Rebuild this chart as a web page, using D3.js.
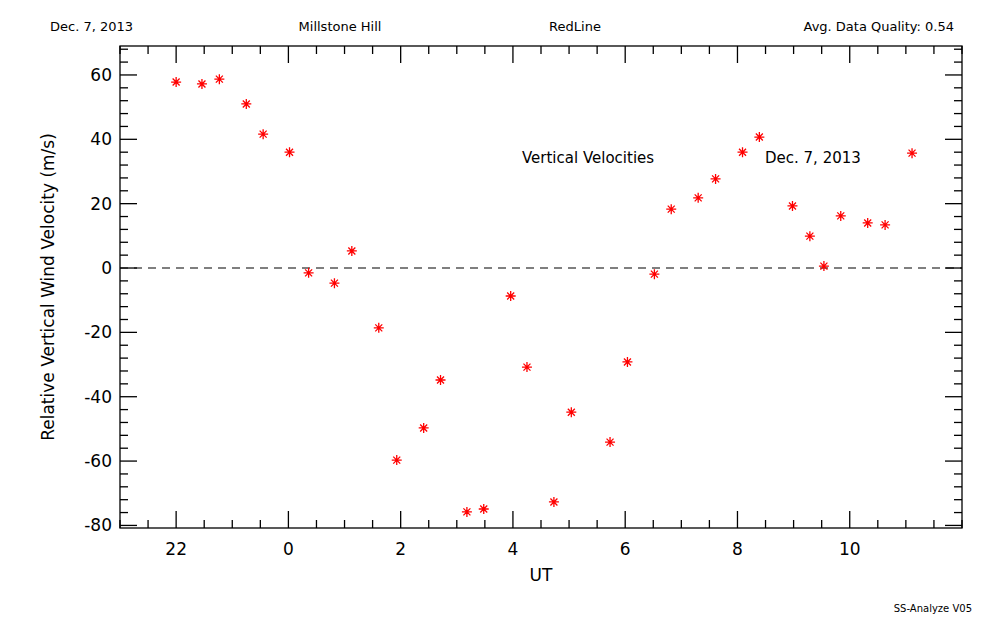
<!DOCTYPE html><html><head><script src="https://cdn.jsdelivr.net/npm/d3@7"></script>
<style>body{margin:0;background:#fff}text{font-family:"DejaVu Sans",sans-serif}</style></head><body><svg id="c" width="1000" height="625"></svg><script>
const ut=[-2,-1.54,-1.23,-0.75,-0.45,0.02,0.36,0.82,1.13,1.61,1.93,2.41,2.71,3.18,3.48,3.96,4.25,4.73,5.04,5.73,6.04,6.52,6.82,7.3,7.61,8.09,8.39,8.98,9.29,9.54,9.84,10.32,10.63,11.11];
const vel=[57.8,57.2,58.7,51,41.6,36,-1.5,-4.7,5.3,-18.6,-59.7,-49.7,-34.8,-75.8,-74.9,-8.7,-30.8,-72.7,-44.8,-54.1,-29.2,-1.9,18.3,21.8,27.7,36,40.7,19.3,9.9,0.6,16.2,14,13.4,35.7];
const xTicks=[-2,0,2,4,6,8,10];
const xLabels=["22","0","2","4","6","8","10"];
const yTicks=[-80,-60,-40,-20,0,20,40,60];
const svg=d3.select("#c");
const L=120,R=962,T=46,B=528;
const x=d3.scaleLinear().domain([-3,12]).range([L,R]);
const y=d3.scaleLinear().domain([-80.8,69]).range([B,T]);
const g=svg.append("g").attr("stroke","#000").attr("stroke-width",1.3);
g.append("rect").attr("x",L).attr("y",T).attr("width",R-L).attr("height",B-T).attr("fill","none");
for(let t=-3;t<=12;t+=0.5){const maj=xTicks.includes(t);const len=maj?17:8;
 g.append("line").attr("x1",x(t)).attr("x2",x(t)).attr("y1",B).attr("y2",B-len);
 g.append("line").attr("x1",x(t)).attr("x2",x(t)).attr("y1",T).attr("y2",T+len);}
for(let v=-80;v<=68;v+=4){const maj=yTicks.includes(v);const len=maj?17:8;
 g.append("line").attr("y1",y(v)).attr("y2",y(v)).attr("x1",L).attr("x2",L+len);
 g.append("line").attr("y1",y(v)).attr("y2",y(v)).attr("x1",R).attr("x2",R-len);}
xTicks.forEach((t,i)=>svg.append("text").attr("x",x(t)).attr("y",555).attr("text-anchor","middle").attr("font-size",17).text(xLabels[i]));
yTicks.forEach(v=>svg.append("text").attr("x",L-8).attr("y",y(v)+6).attr("text-anchor","end").attr("font-size",17).text(v));
svg.append("text").attr("x",541).attr("y",581).attr("text-anchor","middle").attr("font-size",17).text("UT");
svg.append("text").attr("transform","translate(54,287) rotate(-90)").attr("text-anchor","middle").attr("font-size",17).text("Relative Vertical Wind Velocity (m/s)");
svg.append("line").attr("x1",L).attr("x2",R).attr("y1",y(0)).attr("y2",y(0)).attr("stroke","#000").attr("stroke-dasharray","8,6").attr("stroke-width",1.2);
[["Dec. 7, 2013",50,"start"],["Millstone Hill",340,"middle"],["RedLine",575,"middle"],["Avg. Data Quality: 0.54",954,"end"]].forEach(d=>svg.append("text").attr("x",d[1]).attr("y",31).attr("text-anchor",d[2]).attr("font-size",13).text(d[0]));
svg.append("text").attr("x",522).attr("y",163).attr("font-size",15).text("Vertical Velocities");
svg.append("text").attr("x",765).attr("y",163).attr("font-size",15).text("Dec. 7, 2013");
svg.append("text").attr("x",972).attr("y",612).attr("text-anchor","end").attr("font-size",10).text("SS-Analyze V05");
const s=5;
const pts=svg.append("g").attr("stroke","red").attr("stroke-width",1.3);
ut.forEach((t,i)=>{const cx=x(t),cy=y(vel[i]);
 pts.append("path").attr("d",`M${cx-s},${cy}H${cx+s}M${cx},${cy-s}V${cy+s}M${cx-s*0.7},${cy-s*0.7}L${cx+s*0.7},${cy+s*0.7}M${cx-s*0.7},${cy+s*0.7}L${cx+s*0.7},${cy-s*0.7}`);});
</script></body></html>
